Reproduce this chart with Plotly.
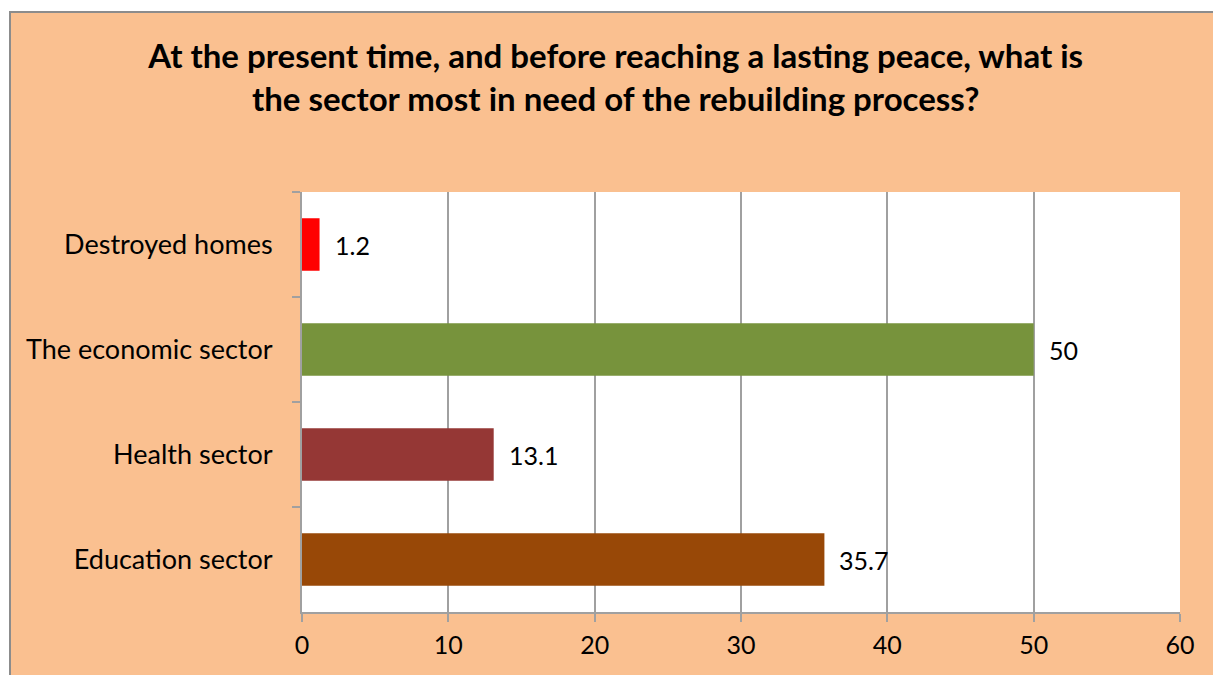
"""
========================================
Setor prioritário para reconstrução
========================================
"""

# %%
# Os valores percentuais de cada setor são mantidos em uma tabela simples,
# na ordem em que aparecem no gráfico (de cima para baixo):
import plotly.graph_objects as go
import pandas as pd

setores = pd.DataFrame(
    {
        "setor": [
            "Destroyed homes",
            "The economic sector",
            "Health sector",
            "Education sector",
        ],
        "valor": [1.2, 50, 13.1, 35.7],
        "cor": ["#FF0000", "#77933C", "#953735", "#984807"],
    }
)

# %%
# Dimensões da figura e da área de plotagem, em pixels
# (a página ainda desloca a figura em 8 px):
largura, altura = 1213, 667
margem = {"l": 294, "r": 41, "t": 184, "b": 63}
w_plot = largura - margem["l"] - margem["r"]
h_plot = altura - margem["t"] - margem["b"]

# %%
# Gráfico de barras horizontais:
fig = go.Figure()
fig.add_trace(
    go.Bar(
        x=setores["valor"],
        y=setores["setor"],
        orientation="h",
        marker={
            "color": setores["cor"],
            "line": {"width": 0},
        },
        showlegend=False,
    )
)
for _, linha in setores.iterrows():
    fig.add_annotation(
        x=linha["valor"],
        y=linha["setor"],
        text=f"{linha['valor']:g}",
        showarrow=False,
        xanchor="left",
        xshift=13,
        font={"size": 25, "color": "black"},
    )

# %%
# Moldura laranja do gráfico e fundo branco da área de plotagem:
fig.add_shape(
    type="rect",
    xref="paper",
    yref="paper",
    x0=(2 - margem["l"]) / w_plot,
    x1=(largura + 20 - margem["l"]) / w_plot,
    y0=-(margem["b"] + 20) / h_plot,
    y1=(altura - margem["b"] - 4) / h_plot,
    fillcolor="#FAC090",
    line={"color": "#8C8C8C", "width": 2},
    layer="below",
)
fig.add_shape(
    type="rect",
    xref="paper",
    yref="paper",
    x0=0,
    x1=1,
    y0=0,
    y1=1,
    fillcolor="white",
    line={"width": 0},
    layer="below",
)

fig.update_layout(
    width=largura,
    height=altura,
    margin=margem,
    paper_bgcolor="white",
    plot_bgcolor="white",
    font={"family": "Lato, Carlito, sans-serif", "size": 27, "color": "black"},
    bargap=0.5,
    title={
        "text": "At the present time, and before reaching a lasting peace, what is"
        "<br>the sector most in need of the rebuilding process?",
        "x": 0.501,
        "xanchor": "center",
        "y": 1 - 60 / altura,
        "yanchor": "middle",
        "font": {"size": 33, "weight": "bold"},
    },
)
fig.update_xaxes(
    range=[0, 60],
    dtick=10,
    showgrid=True,
    gridcolor="#A0A0A0",
    gridwidth=2,
    showline=True,
    linecolor="#A0A0A0",
    linewidth=2,
    ticks="outside",
    ticklen=8,
    tickwidth=2,
    tickcolor="#A0A0A0",
    tickfont={"size": 25},
    ticklabelstandoff=2,
    zeroline=False,
)
fig.update_yaxes(
    autorange="reversed",
    showline=True,
    linecolor="#A0A0A0",
    linewidth=2,
    ticks="outside",
    tickson="boundaries",
    ticklen=8,
    tickwidth=2,
    tickcolor="#A0A0A0",
    ticklabelstandoff=22,
    showgrid=False,
)

fig.write_html("out.html")
